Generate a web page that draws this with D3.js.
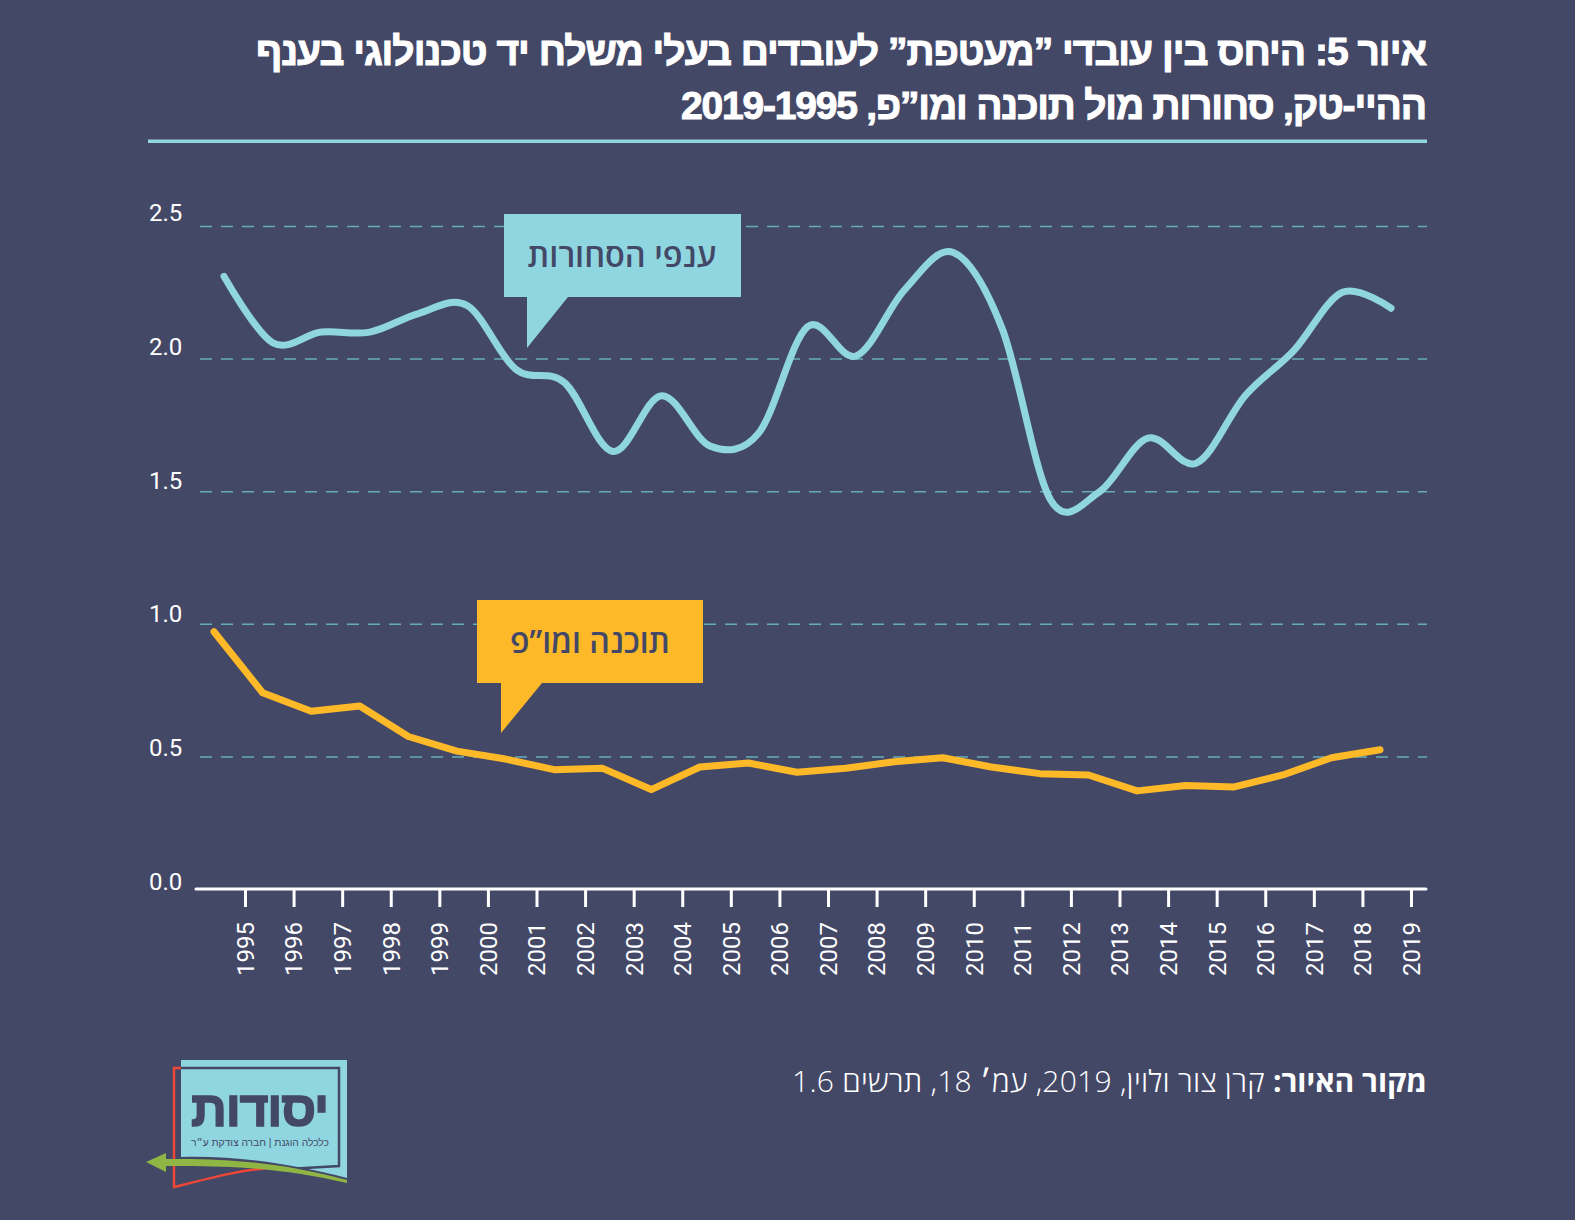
<!DOCTYPE html>
<html lang="he">
<head>
<meta charset="utf-8">
<script src="https://cdnjs.cloudflare.com/ajax/libs/d3/7.8.5/d3.min.js"></script>
<style>
  html, body { margin: 0; padding: 0; background: #444867; }
  svg { display: block; }
  text { font-family: "Open Sans", "Liberation Sans", sans-serif; }
  .num { font-family: Roboto, sans-serif; }
</style>
</head>
<body>
<div id="chart"></div>
<script>
var years = d3.range(1995, 2020);
var trade = [2.31, 2.06, 2.10, 2.10, 2.17, 2.20, 1.96, 1.91, 1.65, 1.86, 1.67, 1.72, 2.12, 2.01, 2.26, 2.40, 2.115, 1.467, 1.497, 1.70, 1.606, 1.86, 2.03, 2.25, 2.19];
var software = [0.97, 0.74, 0.67, 0.69, 0.575, 0.52, 0.49, 0.45, 0.455, 0.375, 0.46, 0.475, 0.44, 0.455, 0.48, 0.495, 0.46, 0.435, 0.43, 0.37, 0.39, 0.385, 0.43, 0.495, 0.525];
var gridTicks = [0.5, 1.0, 1.5, 2.0, 2.5];
var labelTicks = [0, 0.5, 1.0, 1.5, 2.0, 2.5];
var titleLines = ['איור 5: היחס בין עובדי ”מעטפת” לעובדים בעלי משלח יד טכנולוגי בענף', 'ההיי-טק, סחורות מול תוכנה ומו”פ, 2019-1995'];
var titleWidths = [1171, 746];
var tradeLabel = 'ענפי הסחורות';
var softwareLabel = 'תוכנה ומו”פ';
var sourceBold = 'מקור האיור:';
var sourceText = ' קרן צור ולוין, 2019, עמ׳ 18, תרשים 1.6';

var BG = '#444867', TEAL = '#8fd6e0', GOLD = '#fdb927';
var width = 1575, height = 1220;

var svg = d3.select('#chart').append('svg').attr('width', width).attr('height', height);

var y = d3.scaleLinear().domain([0, 2.5]).range([889, 226]);
var yLabel = d3.scaleLinear().domain([0, 2.5]).range([890, 221]);
var xTick = d3.scalePoint().domain(years).range([245, 1411]);
var xTrade = d3.scalePoint().domain(years).range([224, 1391]);
var xSoft = d3.scalePoint().domain(years).range([214, 1380]);

// title
svg.selectAll('.title').data(titleLines).enter().append('text')
  .attr('class', 'title')
  .attr('direction', 'rtl')
  .attr('x', 1427)
  .attr('y', function (d, i) { return 65 + i * 54; })
  .attr('font-size', 39)
  .attr('font-weight', 700)
  .attr('style', 'font-family: "Liberation Sans", sans-serif')
  .attr('fill', '#fff')
  .attr('stroke', '#fff')
  .attr('stroke-width', 1)
  .attr('textLength', function (d, i) { return titleWidths[i]; })
  .text(function (d) { return d; });

svg.append('rect').attr('x', 148).attr('y', 139.5).attr('width', 1279).attr('height', 3.5).attr('fill', TEAL);

// grid
var grid = svg.append('g').attr('transform', 'translate(1427,0)')
  .call(d3.axisLeft(y).tickValues(gridTicks).tickSize(1227).tickFormat(''));
grid.select('.domain').remove();
grid.selectAll('line')
  .attr('x1', -1227).attr('x2', 0)
  .attr('stroke', '#64adb8').attr('stroke-width', 1.5).attr('stroke-dasharray', '12 9');

// y labels
svg.selectAll('.ylab').data(labelTicks).enter().append('text')
  .attr('class', 'num ylab')
  .attr('x', 149)
  .attr('y', function (d) { return yLabel(d); })
  .attr('font-size', 24)
  .attr('fill', '#fff')
  .text(function (d) { return d.toFixed(1); });

// x axis
var xAxis = svg.append('g').attr('transform', 'translate(0,889)')
  .call(d3.axisBottom(xTick).tickSize(18).tickPadding(14));
xAxis.select('.domain').remove();
xAxis.selectAll('line').attr('stroke', '#fff').attr('stroke-width', 3);
xAxis.selectAll('text')
  .attr('class', 'num')
  .attr('font-size', 24)
  .attr('font-family', 'Roboto, sans-serif')
  .attr('fill', '#fff')
  .attr('text-anchor', 'end')
  .attr('transform', 'rotate(-90)')
  .attr('x', -33)
  .attr('y', 0)
  .attr('dy', '0.35em');
svg.append('line').attr('x1', 196).attr('x2', 1426).attr('y1', 889).attr('y2', 889)
  .attr('stroke', '#fff').attr('stroke-width', 3).attr('stroke-linecap', 'round');

// lines
var tradeLine = d3.line()
  .x(function (d, i) { return xTrade(years[i]); })
  .y(function (d) { return y(d); })
  .curve(d3.curveCatmullRom.alpha(0));
var softLine = d3.line()
  .x(function (d, i) { return xSoft(years[i]); })
  .y(function (d) { return y(d); });

svg.append('path').attr('d', tradeLine(trade)).attr('fill', 'none')
  .attr('stroke', TEAL).attr('stroke-width', 7).attr('stroke-linecap', 'round');
svg.append('path').attr('d', softLine(software)).attr('fill', 'none')
  .attr('stroke', GOLD).attr('stroke-width', 7).attr('stroke-linecap', 'round').attr('stroke-linejoin', 'round');

// callouts
function callout(x, yTop, w, h, tipX, tipY, baseX, color, label, cx, size) {
  svg.append('path')
    .attr('d', 'M' + x + ',' + yTop + 'h' + w + 'v' + h + 'H' + baseX + 'L' + tipX + ',' + tipY + 'V' + (yTop + h) + 'H' + x + 'Z')
    .attr('fill', color);
  svg.append('text').attr('x', cx).attr('y', yTop + h / 2 + 11)
    .attr('text-anchor', 'middle').attr('direction', 'rtl')
    .attr('font-size', size).attr('font-weight', 600).attr('fill', BG)
    .text(label);
}
callout(504, 214, 237, 83, 527, 348, 568, TEAL, tradeLabel, 622, 32.5);
callout(477, 600, 226, 83, 501, 733, 542, GOLD, softwareLabel, 590, 32);

// source
var src = svg.append('text').attr('direction', 'rtl').attr('x', 1427).attr('y', 1092)
  .attr('font-size', 30).attr('fill', '#fff');
src.append('tspan').attr('font-weight', 700).text(sourceBold);
src.append('tspan').attr('font-weight', 300).attr('letter-spacing', 0.25).text(sourceText);

// logo
var logo = svg.append('g').attr('style', 'font-family: "Liberation Sans", sans-serif');
logo.append('path').attr('d', 'M181,1060H347V1178C300,1166 240,1155 181,1157Z').attr('fill', TEAL);
logo.append('path').attr('d', 'M181,1068H339V1166L270,1170').attr('fill', 'none').attr('stroke', BG).attr('stroke-width', 2.5);
logo.append('path').attr('d', 'M181,1068H174V1187C210,1178 240,1170 270,1168').attr('fill', 'none').attr('stroke', '#ee4637').attr('stroke-width', 2.5);
logo.append('path').attr('d', 'M146,1162L166,1153V1159C240,1158 290,1165 347,1180V1183C290,1170 240,1165 166,1166V1172Z').attr('fill', '#8fb644');
logo.append('text').attr('direction', 'rtl').attr('text-anchor', 'middle').attr('x', 260).attr('y', 1126)
  .attr('style', 'font-family: "Liberation Sans", sans-serif')
  .attr('font-size', 50).attr('font-weight', 700).attr('fill', BG).attr('stroke', BG).attr('stroke-width', 1.5)
  .attr('textLength', 138).text('יסודות');
logo.append('text').attr('direction', 'rtl').attr('text-anchor', 'middle').attr('x', 260).attr('y', 1146)
  .attr('style', 'font-family: "Liberation Sans", sans-serif')
  .attr('font-size', 10.3).attr('fill', BG)
  .attr('textLength', 138).text('כלכלה הוגנת | חברה צודקת ע״ר');
</script>
</body>
</html>
